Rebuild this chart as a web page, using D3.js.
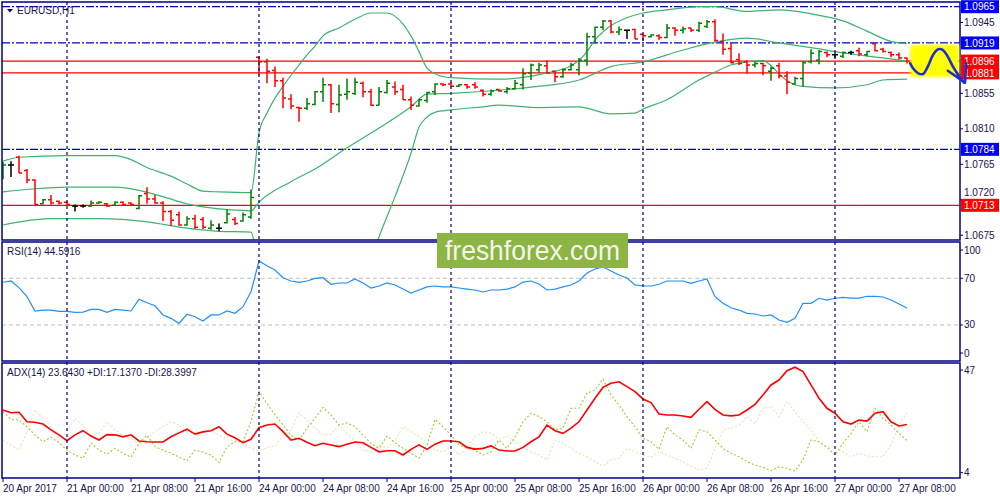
<!DOCTYPE html>
<html><head><meta charset="utf-8">
<script src="https://cdn.jsdelivr.net/npm/d3@7"></script>
<style>
body{margin:0;background:#fff}
svg{display:block}
text{font-family:"Liberation Sans",Arial,sans-serif}
</style>
</head><body>
<svg id="c" width="1000" height="500"></svg>
<script>
// ---------- DATA ----------
const symbolTitle = "EURUSD,H1";
const rsiTitle = "RSI(14) 44.5916";
const adxTitle = "ADX(14) 23.6430 +DI:17.1370 -DI:28.3997";

const opens = [1.0755,1.0764,1.0774,1.0757,1.0745,1.0715,1.0720,1.0718,1.0717,1.0712,
1.0712,1.0712,1.0716,1.0715,1.0713,1.0717,1.0716,1.0709,1.0728,1.0721,
1.0716,1.0705,1.0701,1.0688,1.0696,1.0695,1.0684,1.0684,1.0691,1.0695,
1.0693,1.0698,1.0901,1.0895,1.0884,1.0871,1.0848,1.0837,1.0836,1.0841,
1.0857,1.0866,1.0841,1.0854,1.0855,1.0868,1.0857,1.0840,1.0856,1.0863,
1.0860,1.0847,1.0839,1.0846,1.0857,1.0867,1.0867,1.0864,1.0866,1.0866,
1.0859,1.0854,1.0860,1.0857,1.0861,1.0866,1.0881,1.0885,1.0890,1.0883,
1.0876,1.0885,1.0885,1.0897,1.0927,1.0939,1.0947,1.0933,1.0935,1.0936,
1.0930,1.0927,1.0928,1.0926,1.0938,1.0935,1.0938,1.0935,1.0940,1.0946,
1.0921,1.0912,1.0898,1.0895,1.0891,1.0893,1.0883,1.0890,1.0877,1.0867,
1.0874,1.0895,1.0897,1.0907,1.0904,1.0902,1.0907,1.0909,1.0904,1.0918,
1.0911,1.0907,1.0904,1.0900];
const highs = [1.0768,1.0769,1.0776,1.0759,1.0746,1.0721,1.0726,1.0719,1.0718,1.0714,
1.0714,1.0719,1.0718,1.0716,1.0718,1.0718,1.0717,1.0726,1.0736,1.0726,
1.0718,1.0707,1.0705,1.0699,1.0701,1.0698,1.0694,1.0690,1.0708,1.0698,
1.0704,1.0733,1.0902,1.0899,1.0889,1.0875,1.0854,1.0838,1.0849,1.0858,
1.0875,1.0867,1.0866,1.0874,1.0875,1.0870,1.0861,1.0863,1.0872,1.0870,
1.0866,1.0851,1.0848,1.0857,1.0868,1.0868,1.0869,1.0867,1.0867,1.0869,
1.0860,1.0860,1.0861,1.0863,1.0872,1.0887,1.0893,1.0894,1.0897,1.0884,
1.0887,1.0894,1.0900,1.0932,1.0940,1.0948,1.0948,1.0940,1.0936,1.0937,
1.0931,1.0930,1.0930,1.0943,1.0939,1.0940,1.0938,1.0946,1.0948,1.0949,
1.0931,1.0919,1.0906,1.0897,1.0895,1.0894,1.0889,1.0894,1.0883,1.0876,
1.0896,1.0911,1.0910,1.0908,1.0906,1.0908,1.0909,1.0913,1.0909,1.0919,
1.0913,1.0908,1.0907,1.0901];
const lows = [1.0746,1.0749,1.0754,1.0741,1.0714,1.0714,1.0714,1.0714,1.0713,1.0705,
1.0710,1.0711,1.0715,1.0711,1.0712,1.0713,1.0713,1.0708,1.0715,1.0715,
1.0693,1.0687,1.0687,1.0687,1.0683,1.0683,1.0682,1.0680,1.0690,1.0688,
1.0692,1.0696,1.0878,1.0868,1.0863,1.0836,1.0835,1.0819,1.0834,1.0840,
1.0844,1.0830,1.0831,1.0847,1.0853,1.0850,1.0839,1.0840,1.0855,1.0853,
1.0847,1.0834,1.0838,1.0843,1.0853,1.0864,1.0863,1.0863,1.0861,1.0861,
1.0851,1.0852,1.0857,1.0855,1.0860,1.0860,1.0872,1.0881,1.0880,1.0869,
1.0875,1.0884,1.0878,1.0890,1.0918,1.0935,1.0931,1.0929,1.0924,1.0924,
1.0922,1.0926,1.0923,1.0925,1.0928,1.0931,1.0933,1.0933,1.0938,1.0921,
1.0904,1.0893,1.0891,1.0880,1.0888,1.0878,1.0871,1.0874,1.0854,1.0866,
1.0863,1.0893,1.0892,1.0901,1.0900,1.0900,1.0904,1.0902,1.0902,1.0908,
1.0907,1.0901,1.0898,1.0893];
const closes = [1.0764,1.0764,1.0754,1.0745,1.0714,1.0720,1.0716,1.0716,1.0714,1.0712,
1.0712,1.0716,1.0717,1.0712,1.0717,1.0714,1.0714,1.0725,1.0721,1.0716,
1.0705,1.0694,1.0688,1.0696,1.0685,1.0685,1.0688,1.0684,1.0702,1.0690,
1.0701,1.0723,1.0895,1.0883,1.0871,1.0849,1.0839,1.0836,1.0842,1.0857,
1.0866,1.0842,1.0853,1.0857,1.0869,1.0857,1.0840,1.0857,1.0868,1.0857,
1.0847,1.0840,1.0847,1.0856,1.0867,1.0866,1.0864,1.0866,1.0863,1.0863,
1.0854,1.0858,1.0858,1.0861,1.0868,1.0880,1.0891,1.0891,1.0881,1.0876,
1.0885,1.0891,1.0897,1.0927,1.0939,1.0947,1.0933,1.0936,1.0935,1.0924,
1.0928,1.0929,1.0926,1.0938,1.0935,1.0937,1.0935,1.0944,1.0946,1.0922,
1.0911,1.0894,1.0893,1.0891,1.0893,1.0890,1.0887,1.0877,1.0869,1.0874,
1.0894,1.0906,1.0908,1.0904,1.0904,1.0907,1.0907,1.0905,1.0908,1.0909,
1.0908,1.0904,1.0900,1.0896];

// Bollinger bands: [bar index, price]
const upperBand = [[0,1.0769],[2,1.0774],[8,1.0776],[14,1.0776],[16,1.0771],[18,1.0761],[21,1.0750],[23,1.0740],[25,1.0731],[27,1.0730],[31,1.0729],
[32,1.0805],[33,1.0830],[34,1.0849],[35,1.0864],[36,1.0878],[37,1.0891],[38,1.0904],[39,1.0915],[40,1.0928],[42,1.0938],[44,1.0949],[46,1.0957],[48,1.0957],
[50,1.0943],[51,1.0928],[52,1.0908],[53,1.0887],[54,1.0880],[56,1.0875],[62,1.0873],[68,1.0881],[71,1.0890],[72,1.0897],[73,1.0908],[74,1.0923],[75,1.0933],
[76,1.0941],[78,1.0951],[80,1.0957],[83,1.0961],[87,1.0965],[89,1.0965],[93,1.0959],[97,1.0961],[101,1.0956],[105,1.0947],[108,1.0934],[111,1.0921],[113,1.0918]];
const middleBand = [[0,1.0730],[4,1.0734],[8,1.0736],[14,1.0736],[17,1.0732],[20,1.0724],[23,1.0715],[25,1.0711],[29,1.0707],[31,1.0706],
[32,1.0717],[36,1.0743],[39,1.0759],[43,1.0786],[47,1.0811],[51,1.0838],[53,1.0854],[56,1.0855],[62,1.0859],[66,1.0863],[72,1.0872],[76,1.0889],
[80,1.0895],[85,1.0910],[89,1.0920],[93,1.0925],[97,1.0919],[101,1.0913],[106,1.0905],[110,1.0900],[113,1.0896]];
const lowerBand = [[0,1.0688],[6,1.0696],[12,1.0696],[18,1.0692],[23,1.0684],[27,1.0680],[31,1.0679],[32,1.0637],[35,1.0607],[39,1.0603],[43,1.0623],
[46,1.0645],[47,1.0673],[49,1.0724],[51,1.0779],[52,1.0812],[53,1.0825],[54,1.0831],[56,1.0834],[60,1.0838],[62,1.0840],[67,1.0837],[72,1.0838],
[76,1.0829],[79,1.0830],[80,1.0835],[83,1.0847],[87,1.0872],[89,1.0882],[91,1.0891],[93,1.0895],[95,1.0897],[96,1.0890],[97,1.0880],[98,1.0871],
[99,1.0866],[100,1.0864],[104,1.0862],[108,1.0866],[110,1.0872],[113,1.0873]];

const rsi = [66.6,67.7,62,54.3,42,42.8,42.8,41.7,41.7,40.8,
41.1,43.4,43.4,40.8,43.4,42.8,42,52,49.1,46.5,
38.6,35.7,31.4,39.2,37.1,33.4,38.6,38.6,42,40,
45.7,58.5,84.8,80.8,77.1,70.5,67.7,66.6,67.7,70,
70.5,64.9,66,66,69.4,66,61.7,63.4,66,64.3,
60.8,57.4,60,62.6,63.4,62.6,62.6,61.7,60.8,60,
58.3,60,60,60.8,62.6,66.8,67.7,65.1,60,60.8,
62.6,64.3,67.7,74.5,78,79.7,76.3,72.8,70.3,64.3,
63.4,63.4,64.9,67.7,67.7,67.7,65.7,67.7,69.4,54.3,
48.6,44.8,42.8,40,39.4,37.7,38.6,34.3,32.3,35.7,
48.6,48.6,52.9,51.4,52.9,53.7,53.1,53.1,54.6,54.6,
54,51.4,48,44.59];

const adx = [29.5,28.4,28.6,24.7,24.5,23.8,21.4,19.4,17.0,19.4,
21.1,18.9,17.3,19.5,19.4,18.6,19.4,16.9,16.6,16.5,
16.5,18.6,20.2,21.7,19.7,20.6,21.1,22.7,19.7,18.2,
16.2,17.6,22.3,23.4,23.8,20.7,17.3,18.0,16.4,15.0,
16.0,15.3,14.6,15.6,16.5,16.2,14.3,12.5,12.9,12.9,
11.2,13.5,15.3,13.5,15.6,16.9,16.9,16.6,14.3,13.6,
13.9,14.9,13.2,12.8,12.8,14.3,16.6,18.6,23.4,21.1,
20.0,22.1,24.7,29.5,34.3,38.7,40.4,41.0,39.0,37.0,
34.0,32.5,27.9,27.5,27.5,27.1,26.5,29.8,32.9,29.8,
27.5,27.1,27.5,29.5,31.8,35.6,39.7,41.7,45.5,46.9,
45.1,39.7,34.3,30.2,28.2,24.7,23.8,25.4,25.0,28.2,
28.8,24.7,23.0,23.64];
const plusDI = [28.8,25.7,25.4,22.7,19.3,16.6,18.4,16.2,13.2,11.2,
9.9,16.0,13.2,11.6,13.9,11.9,10.3,16.0,19.3,14.6,
13.2,11.9,10.4,8.9,13.2,12.4,11.2,8.1,14.6,16.6,
16.6,24.7,37.0,32.2,27.5,23.4,19.3,17.3,22.1,26.1,
30.6,27.5,23.4,24.3,22.7,19.3,16.0,13.9,18.9,16.2,
13.9,11.9,9.9,15.3,25.7,22.7,19.3,15.3,13.9,13.2,
11.2,12.5,17.3,13.9,18.6,24.7,28.2,26.8,24.7,21.4,
22.1,30.2,30.2,36.3,37.6,42.1,35.6,31.5,26.8,22.7,
18.0,16.6,13.5,22.7,19.3,17.3,13.9,21.4,20.7,17.3,
13.9,11.9,10.5,8.5,7.1,6.2,4.8,6.4,5.8,4.7,
9.2,17.3,16.6,14.3,11.2,16.0,20.0,24.7,20.7,30.2,
26.1,23.4,20.0,17.14];
const minusDI = [17.3,15.3,13.2,20.7,29.5,26.1,22.7,17.3,20.7,26.1,
23.4,18.9,20.0,24.7,21.4,19.3,18.0,15.3,18.1,20.7,
22.7,24.7,23.4,20.7,20.0,20.7,21.4,19.3,17.3,17.3,
15.7,13.9,12.9,14.3,14.9,19.3,21.4,28.2,25.4,22.1,
19.3,19.7,23.4,20.0,16.6,13.2,12.5,15.3,13.9,17.3,
22.7,20.7,18.6,16.0,13.2,12.5,14.6,11.2,13.9,18.6,
20.7,20.0,17.7,18.9,16.6,14.3,12.5,11.2,9.2,17.3,
16.0,13.9,11.9,10.5,8.5,6.7,9.2,9.9,13.9,12.5,
11.2,10.3,12.5,11.2,9.9,8.5,6.7,5.1,5.8,13.9,
21.4,22.1,23.4,26.8,23.8,30.2,30.8,26.8,32.9,28.8,
24.7,21.4,16.6,14.3,14.6,12.5,10.5,11.9,10.8,10.5,
10.5,15.3,23.4,28.4];

const priceTicks = [1.0945,1.0855,1.0810,1.0765,1.0720,1.0675];
const dashLevels = [1.0965,1.0919,1.0784];
const redLevels = [1.0896,1.0881,1.0713];
const rsiLevels = [70,30];
const rsiTicks = [100,70,30,0];
const adxTicks = [47,4];
const timeLabels = [[0,"20 Apr 2017"],[8,"21 Apr 00:00"],[16,"21 Apr 08:00"],[24,"21 Apr 16:00"],[32,"24 Apr 00:00"],
[40,"24 Apr 08:00"],[48,"24 Apr 16:00"],[56,"25 Apr 00:00"],[64,"25 Apr 08:00"],[72,"25 Apr 16:00"],[80,"26 Apr 00:00"],
[88,"26 Apr 08:00"],[96,"26 Apr 16:00"],[104,"27 Apr 00:00"],[112,"27 Apr 08:00"]];
const daySeparators = [8,32,56,80,104];
// hand-drawn forecast annotation, in (bar index, price)
const forecastBox = [[113.4,1.09164],[119.5,1.08758]];
const forecastPath = [[113.4,1.08932],[113.75,1.08868],[114.4,1.08805],[115,1.08796],[115.6,1.08889],[116.25,1.09037],[116.9,1.09109],
[117.5,1.09100],[118.1,1.09016],[118.75,1.08889],[119.4,1.08783],[120.1,1.08690]];
const forecastHead = [[118.1,1.08838],[120.25,1.08686],[120.4,1.08936]];
const watermark = "freshforex.com";

// ---------- LAYOUT ----------
const L = 2, R = 960;
const mainP = {t:2, b:240}, rsiP = {t:242, b:361}, adxP = {t:363, b:478};
const NAVY = "#000080", TXT = "#141450";
const svg = d3.select("#c");

const x = d3.scaleLinear().domain([-0.125, 119.625]).range([L, R]);
const y = d3.scaleLinear().domain([1.0713, 1.0965]).range([205.3, 6.7]);
const yr = d3.scaleLinear().domain([0, 100]).range([360, 243.3]);
const ya = d3.scaleLinear().domain([4, 47]).range([472.7, 367]);

const defs = svg.append("defs");
[["clipMain",mainP],["clipRsi",rsiP],["clipAdx",adxP]].forEach(([id,p])=>{
  defs.append("clipPath").attr("id",id).append("rect").attr("x",L).attr("y",p.t).attr("width",R-L).attr("height",p.b-p.t);
});
defs.append("filter").attr("id","glow").attr("x","-20%").attr("y","-20%").attr("width","140%").attr("height","140%")
  .append("feGaussianBlur").attr("stdDeviation",1.6);

// ---------- MAIN PANEL ----------
const gm = svg.append("g").attr("clip-path","url(#clipMain)");
gm.selectAll(".dl").data(dashLevels).join("line")
  .attr("x1",L).attr("x2",R).attr("y1",d=>y(d)).attr("y2",d=>y(d))
  .attr("stroke","#0000cd").attr("stroke-width",1.3).attr("stroke-dasharray","8,2,2,2");
gm.selectAll(".rl").data(redLevels).join("line")
  .attr("x1",L).attr("x2",R).attr("y1",d=>y(d)).attr("y2",d=>y(d))
  .attr("stroke","#ff0000").attr("stroke-width",1.3);

const bandLine = d3.line().x(d=>x(d[0])).y(d=>y(d[1])).curve(d3.curveMonotoneX);
[upperBand, middleBand, lowerBand].forEach(b=>{
  gm.append("path").attr("d",bandLine(b)).attr("fill","none").attr("stroke","#3cb371").attr("stroke-width",1.2);
});

const bars = opens.map((o,i)=>({i,o,h:highs[i],l:lows[i],c:closes[i]}));
gm.selectAll(".bar").data(bars).join("path")
  .attr("d",d=>{
    const cx = x(d.i);
    return `M${cx},${y(d.h)}V${y(d.l)}M${cx-3},${y(d.o)}H${cx}M${cx},${y(d.c)}H${cx+3}`;
  })
  .attr("fill","none").attr("stroke-width",1.5)
  .attr("stroke",d=>d.c>d.o?"#008000":(d.c<d.o?"#ff0000":"#000000"));

// ---------- RSI PANEL ----------
const gr = svg.append("g").attr("clip-path","url(#clipRsi)");
gr.selectAll(".lv").data(rsiLevels).join("line")
  .attr("x1",L).attr("x2",R).attr("y1",d=>yr(d)).attr("y2",d=>yr(d))
  .attr("stroke","#c0c0c0").attr("stroke-width",1).attr("stroke-dasharray","4,3");
gr.append("path").datum(rsi)
  .attr("d",d3.line().x((d,i)=>x(i)).y(d=>yr(d)))
  .attr("fill","none").attr("stroke","#1e90ff").attr("stroke-width",1.2);

// ---------- ADX PANEL ----------
const ga = svg.append("g").attr("clip-path","url(#clipAdx)");
const al = d3.line().x((d,i)=>x(i)).y(d=>ya(d));
ga.append("path").datum(minusDI).attr("d",al).attr("fill","none")
  .attr("stroke","#f5deb3").attr("stroke-width",1.1).attr("stroke-dasharray","2,2");
ga.append("path").datum(plusDI).attr("d",al).attr("fill","none")
  .attr("stroke","#9acd32").attr("stroke-width",1.1).attr("stroke-dasharray","2,2");
ga.append("path").datum(adx).attr("d",al).attr("fill","none")
  .attr("stroke","#ff0000").attr("stroke-width",1.6);

// ---------- DAY SEPARATORS ----------
svg.selectAll(".ds").data(daySeparators).join("line")
  .attr("x1",d=>x(d)).attr("x2",d=>x(d)).attr("y1",mainP.t).attr("y2",adxP.b)
  .attr("stroke",NAVY).attr("stroke-width",1.2).attr("stroke-dasharray","3,3");

// ---------- FRAMES ----------
[mainP,rsiP,adxP].forEach(p=>{
  svg.append("rect").attr("x",L).attr("y",p.t).attr("width",R-L).attr("height",p.b-p.t)
    .attr("fill","none").attr("stroke",NAVY).attr("stroke-width",1.5);
});

// ---------- AXES ----------
priceTicks.forEach(v=>{
  svg.append("line").attr("x1",R).attr("x2",R+3).attr("y1",y(v)).attr("y2",y(v)).attr("stroke",NAVY);
  // the 1.0720 label sits just above the 1.0713 level box, so nudge it up
  const ty = (v===1.0720) ? y(v)-7 : y(v);
  svg.append("text").attr("x",964).attr("y",ty).attr("dy","0.35em")
    .attr("font-size",10).attr("fill",TXT).text(v.toFixed(4));
});
function levelBox(v,col){
  svg.append("rect").attr("x",961).attr("y",y(v)-6.5).attr("width",38).attr("height",13).attr("fill",col);
  svg.append("text").attr("x",964).attr("y",y(v)).attr("dy","0.36em")
    .attr("font-size",10).attr("fill","#ffffff").text(v.toFixed(4));
}
dashLevels.forEach(v=>levelBox(v,"#0000ff"));
redLevels.forEach(v=>levelBox(v,"#ff0000"));

rsiTicks.forEach(v=>{
  const yy = Math.min(Math.max(yr(v),250),353);
  svg.append("line").attr("x1",R).attr("x2",R+3).attr("y1",yy).attr("y2",yy).attr("stroke",NAVY);
  svg.append("text").attr("x",964).attr("y",yy).attr("dy","0.35em").attr("font-size",10).attr("fill",TXT).text(v);
});
adxTicks.forEach(v=>{
  const yy = Math.min(Math.max(ya(v),370),473);
  svg.append("line").attr("x1",R).attr("x2",R+3).attr("y1",yy).attr("y2",yy).attr("stroke",NAVY);
  svg.append("text").attr("x",964).attr("y",yy).attr("dy","0.35em").attr("font-size",10).attr("fill",TXT).text(v);
});
timeLabels.forEach(([i,t])=>{
  svg.append("line").attr("x1",x(i)).attr("x2",x(i)).attr("y1",adxP.b).attr("y2",adxP.b+4).attr("stroke",NAVY);
  svg.append("text").attr("x",x(i)).attr("y",492).attr("font-size",10).attr("fill",TXT).text(t);
});

// ---------- TITLES ----------
svg.append("path").attr("d","M7,9L13,9L10,12.5Z").attr("fill",NAVY);
svg.append("text").attr("x",17).attr("y",14).attr("font-size",10).attr("fill",TXT).text(symbolTitle);
svg.append("text").attr("x",7).attr("y",255).attr("font-size",10).attr("fill",TXT).text(rsiTitle);
svg.append("text").attr("x",7).attr("y",376).attr("font-size",10).attr("fill",TXT).text(adxTitle);

// ---------- WATERMARK ----------
svg.append("rect").attr("x",437).attr("y",233).attr("width",191).attr("height",35).attr("fill","#8db543");
svg.append("text").attr("x",445).attr("y",259.5).attr("font-family","'Open Sans','Noto Sans',sans-serif")
  .attr("font-size",27).attr("fill","#f4f6ee").attr("textLength",175).attr("lengthAdjust","spacingAndGlyphs").text(watermark);

// ---------- FORECAST ANNOTATION ----------
svg.append("rect")
  .attr("x",x(forecastBox[0][0])).attr("y",y(forecastBox[0][1]))
  .attr("width",x(forecastBox[1][0])-x(forecastBox[0][0])).attr("height",y(forecastBox[1][1])-y(forecastBox[0][1]))
  .attr("fill","#ffff00").attr("filter","url(#glow)");
const fLine = d3.line().x(d=>x(d[0])).y(d=>y(d[1]));
svg.append("path").attr("d",fLine.curve(d3.curveCatmullRom)(forecastPath))
  .attr("fill","none").attr("stroke","#1c2fd0").attr("stroke-width",2.6).attr("stroke-linecap","round");
svg.append("path").attr("d",d3.line().x(d=>x(d[0])).y(d=>y(d[1]))(forecastHead))
  .attr("fill","none").attr("stroke","#1c2fd0").attr("stroke-width",2.6)
  .attr("stroke-linecap","round").attr("stroke-linejoin","round");
</script>
</body></html>
